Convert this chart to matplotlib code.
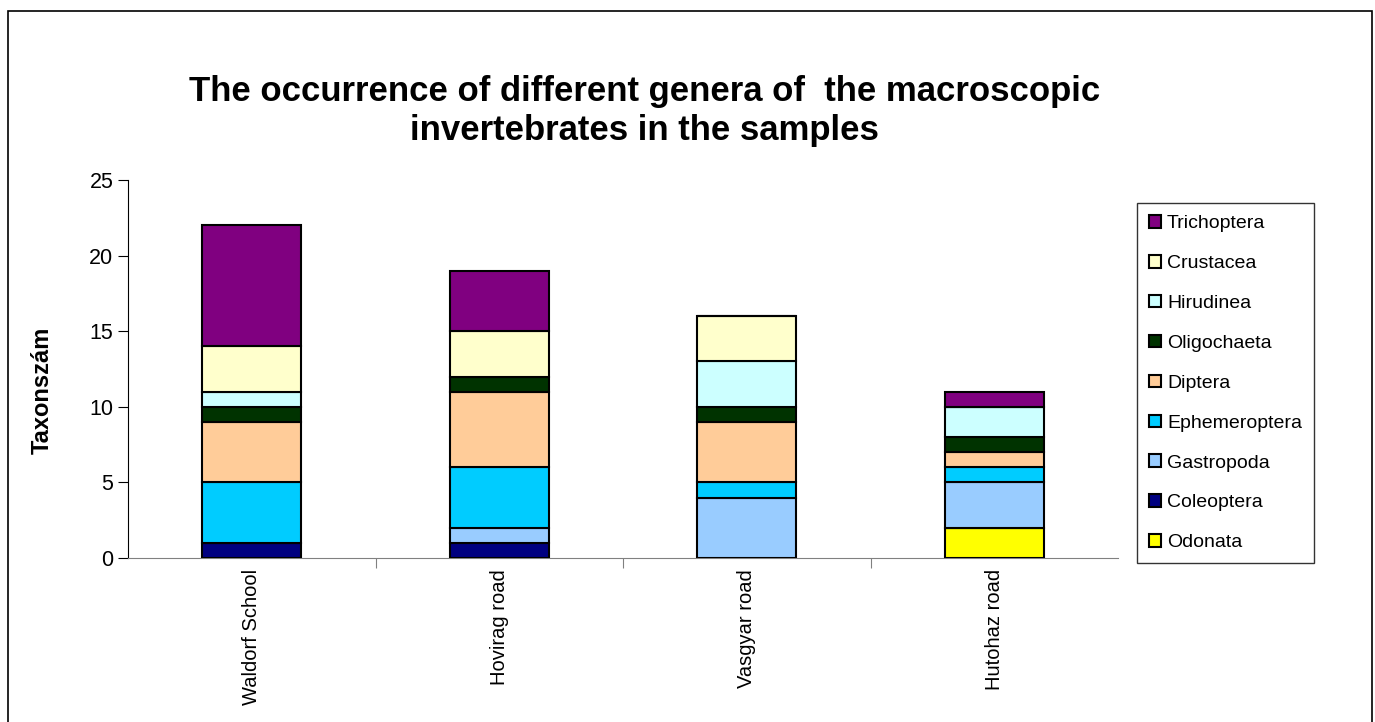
import matplotlib.pyplot as plt
import numpy as np
from matplotlib.patches import Rectangle

plt.rcParams['font.family'] = ['Liberation Sans', 'DejaVu Sans']

sites = ['Waldorf School', 'Hovirag road', 'Vasgyar road', 'Hutohaz road']
groups = ['Odonata', 'Coleoptera', 'Gastropoda', 'Ephemeroptera', 'Diptera',
          'Oligochaeta', 'Hirudinea', 'Crustacea', 'Trichoptera']
odonata = [0, 0, 0, 2]
coleoptera = [1, 1, 0, 0]
gastropoda = [0, 1, 4, 3]
ephemeroptera = [4, 4, 1, 1]
diptera = [4, 5, 4, 1]
oligochaeta = [1, 1, 1, 1]
hirudinea = [1, 0, 3, 2]
crustacea = [3, 3, 3, 0]
trichoptera = [8, 4, 0, 1]
colors = ['#FFFF00', '#000080', '#99CCFF', '#00CCFF', '#FFCC99',
          '#003300', '#CCFFFF', '#FFFFCC', '#800080']

series = [odonata, coleoptera, gastropoda, ephemeroptera, diptera,
          oligochaeta, hirudinea, crustacea, trichoptera]

fig = plt.figure(figsize=(13.75, 7.22), dpi=100)
fig.patches.append(Rectangle((8 / 1375, -0.1), 1364 / 1375, 1.1 - 11 / 722,
                             transform=fig.transFigure, fill=False,
                             edgecolor='black', linewidth=1.2))
ax = fig.add_axes([128 / 1375, 1 - 558 / 722, 990 / 1375, 378 / 722])

x = np.arange(len(sites))
bottom = np.zeros(len(sites))
for name, vals, c in zip(groups, series, colors):
    vals = np.array(vals, dtype=float)
    ax.bar(x, vals, 0.4, bottom=bottom, color=c, edgecolor='black',
           linewidth=1.5, label=name, zorder=3)
    bottom += vals

ax.set_xlim(-0.5, len(sites) - 0.5)
ax.set_ylim(0, 25)
ax.set_yticks([0, 5, 10, 15, 20, 25])
ax.tick_params(axis='y', labelsize=15.5, length=7, width=0.8, direction='out')
ax.set_xticks(x)
ax.set_xticklabels(sites, rotation=90, fontsize=14.5)
ax.tick_params(axis='x', length=0, pad=8)
ax.set_xticks(np.arange(0.5, len(sites) - 0.5), minor=True)
ax.tick_params(axis='x', which='minor', length=7, width=0.8, color='#808080')
ax.spines['top'].set_visible(False)
ax.spines['right'].set_visible(False)
ax.spines['bottom'].set_color('#808080')
ax.set_ylabel('Taxonszám', fontsize=17, fontweight='bold')
ax.yaxis.set_label_coords(-0.075, 0.444)

fig.text(0.469, 1 - 111 / 722,
         'The occurrence of different genera of  the macroscopic\ninvertebrates in the samples',
         ha='center', va='center', fontsize=25, fontweight='bold', linespacing=1.2)

handles, labels = ax.get_legend_handles_labels()
leg = fig.legend(handles[::-1], labels[::-1], loc='upper left',
                 bbox_to_anchor=(1137 / 1375, 1 - 203 / 722), fontsize=14,
                 frameon=True, fancybox=False, edgecolor='black',
                 handlelength=0.62, handleheight=0.62, handletextpad=0.3,
                 labelspacing=1.17, borderpad=0.62, borderaxespad=0)
leg.get_frame().set_linewidth(1.0)

fig.savefig('out.png', dpi=100, facecolor='white')
